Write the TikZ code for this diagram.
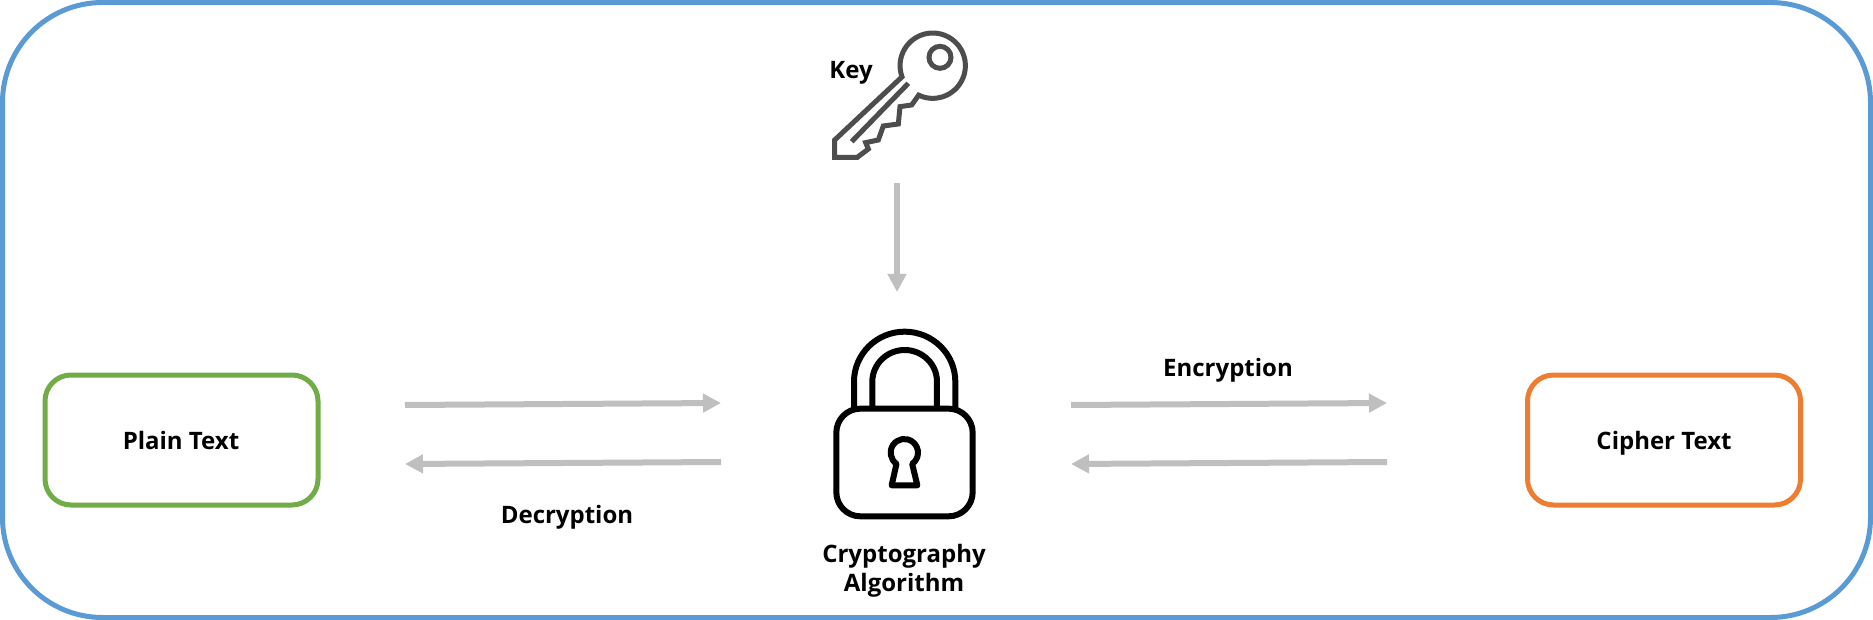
\documentclass[tikz,border=0pt]{standalone}
\usepackage{fontspec}
\setmainfont{Open Sans}
\usetikzlibrary{arrows.meta}
\definecolor{framecol}{HTML}{5B9BD5}
\definecolor{greencol}{HTML}{70AD47}
\definecolor{orangecol}{HTML}{ED7D31}
\definecolor{arrowcol}{HTML}{BFBFBF}
\definecolor{keycol}{HTML}{4D4D4D}
\tikzset{
  frame/.style={draw=framecol,line width=5pt,rounded corners=100pt},
  textbox/.style={line width=5pt,rounded corners=26pt,minimum width=273pt,minimum height=130pt,inner sep=0pt},
  lbl/.style={anchor=base,inner sep=0pt,font=\fontsize{24}{28}\selectfont\bfseries},
  flow/.style={draw=arrowcol,line width=6pt,-{Triangle[length=18pt,width=18pt]}},
  keyline/.style={draw=keycol,line width=5pt,line join=miter},
  lockline/.style={draw=black,line width=6pt,line join=round},
}
\begin{document}
\begin{tikzpicture}[x=1pt,y=-1pt]
\useasboundingbox (0,0) rectangle (1873,620);
\fill[white] (0,0) rectangle (1873,620);
\draw[frame] (2.5,2.5) rectangle (1870.5,617.5);

% boxes
\node[textbox,draw=greencol] (plain) at (181.5,440) {};
\node[textbox,draw=orangecol] (cipher) at (1664,440) {};
\node[lbl] (plainlbl) at (181,449) {Plain Text};
\node[lbl] (cipherlbl) at (1664,449) {Cipher Text};
\node[lbl] (enclbl) at (1228,376) {Encryption};
\node[lbl] (declbl) at (567,523) {Decryption};
\node[lbl] (keylbl) at (851,79) {Key};
\node[lbl] (algo1) at (904,562) {Cryptography};
\node[lbl] (algo2) at (904,591) {Algorithm};

% arrow ends
\coordinate (a1s) at (405,405); \coordinate (a1e) at (721,403);
\coordinate (a2s) at (721,462); \coordinate (a2e) at (405,464);
\coordinate (a3s) at (1071,405); \coordinate (a3e) at (1387,403);
\coordinate (a4s) at (1387,462); \coordinate (a4e) at (1071,464);
\coordinate (a5s) at (897,183); \coordinate (a5e) at (897,292);
\draw[flow] (a1s) -- (a1e);
\draw[flow] (a2s) -- (a2e);
\draw[flow] (a3s) -- (a3e);
\draw[flow] (a4s) -- (a4e);
\draw[flow] (a5s) -- (a5e);

% key icon
\begin{scope}[shift={(800,0)},x=0.3333pt,y=-0.3333pt]
  \draw[keyline] (104,420) -- (104,472) -- (172,472) -- (205,447) -- (197,428) -- (235,420) -- (250,378) -- (295,372) -- (300,320) -- (335,315) -- (356,285.5)
     arc[start angle=115.5,end angle=-200,radius=98] -- cycle;
  \draw[keyline] (420,172) circle[radius=33];
  \draw[keyline] (325,250) -- (155,425);
\end{scope}

% lock icon
\begin{scope}[shift={(800,310)},x=0.3333pt,y=-0.3333pt]
  \draw[lockline] (162,296) -- (162,215) arc[start angle=180,end angle=360,x radius=152,y radius=150] -- (466,296);
  \draw[lockline] (217,296) -- (217,215) arc[start angle=180,end angle=360,x radius=97,y radius=95] -- (411,296);
  \draw[lockline,rounded corners=24pt] (109,296) rectangle (518,619);
  \draw[lockline] (289.5,461.6) arc[start angle=125,end angle=415,radius=41] -- (352,526) -- (275,526) -- cycle;
\end{scope}
\end{tikzpicture}
\end{document}
